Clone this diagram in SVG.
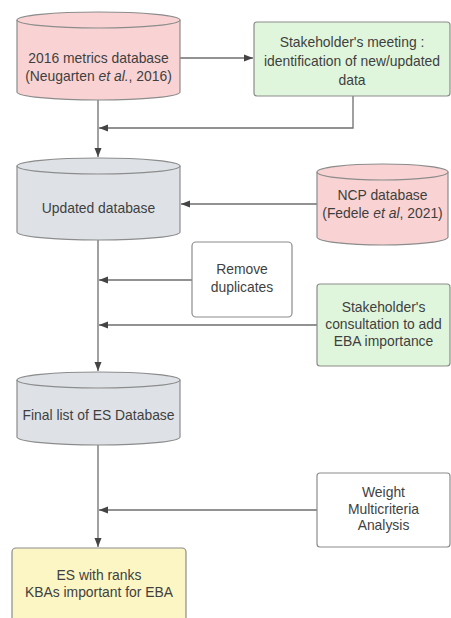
<svg xmlns="http://www.w3.org/2000/svg" width="451" height="618" viewBox="0 0 451 618">
<defs>
<marker id="ah" markerWidth="10" markerHeight="8" refX="9" refY="4" orient="auto" markerUnits="userSpaceOnUse">
<path d="M0,0.5 L9,4 L0,7.5 Z" fill="#444"/>
</marker>
<style>
.t{font-family:"Liberation Sans",Arial,sans-serif;font-size:13.9px;fill:#3f3f3f;text-anchor:middle}
.sh{stroke:#8c8c8c;stroke-width:1.2}
.pink{fill:#f9d3d3}
.green{fill:#e0f6dc}
.gray{fill:#dee2e7}
.yellow{fill:#fbf6c4}
.white{fill:#ffffff}
.c{fill:none;stroke:#6e6e6e;stroke-width:1.3}
</style>
</defs>
<rect width="451" height="618" fill="#ffffff"/>

<g id="connectors">
<path class="c" d="M180,58 H253" marker-end="url(#ah)"/>
<path class="c" d="M98,100 V157" marker-end="url(#ah)"/>
<path class="c" d="M353,96 V128 H99" marker-end="url(#ah)"/>
<path class="c" d="M317,204 H181" marker-end="url(#ah)"/>
<path class="c" d="M98,240 V371" marker-end="url(#ah)"/>
<path class="c" d="M192,280 H99" marker-end="url(#ah)"/>
<path class="c" d="M317,325 H99" marker-end="url(#ah)"/>
<path class="c" d="M98,445 V547" marker-end="url(#ah)"/>
<path class="c" d="M317,510 H99" marker-end="url(#ah)"/>
</g>

<g id="db2016">
<path class="sh pink" d="M17,20 A81.5,8 0 0 1 180,20 V92 A81.5,8 0 0 1 17,92 Z"/>
<path class="sh" fill="none" d="M17,20 A81.5,8 0 0 0 180,20"/>
<text class="t" x="98.5" y="63">2016 metrics database</text>
<text class="t" x="98.5" y="81">(Neugarten <tspan font-style="italic">et al.</tspan>, 2016)</text>
</g>

<g id="meeting">
<rect class="sh green" x="254" y="22" width="196" height="74" rx="3"/>
<text class="t" x="352" y="47">Stakeholder's meeting :</text>
<text class="t" x="352" y="66">identification of new/updated</text>
<text class="t" x="352" y="85">data</text>
</g>

<g id="updated">
<path class="sh gray" d="M17,166 A81.5,8 0 0 1 180,166 V232 A81.5,8 0 0 1 17,232 Z"/>
<path class="sh" fill="none" d="M17,166 A81.5,8 0 0 0 180,166"/>
<text class="t" x="98.5" y="213">Updated database</text>
</g>

<g id="ncp">
<path class="sh pink" d="M317,172 A65.5,8 0 0 1 448,172 V237 A65.5,8 0 0 1 317,237 Z"/>
<path class="sh" fill="none" d="M317,172 A65.5,8 0 0 0 448,172"/>
<text class="t" x="382.5" y="200">NCP database</text>
<text class="t" x="382.5" y="218">(Fedele <tspan font-style="italic">et al</tspan>, 2021)</text>
</g>

<g id="dupl">
<rect class="sh white" x="192" y="242" width="100" height="75" rx="4"/>
<text class="t" x="242" y="274">Remove</text>
<text class="t" x="242" y="292">duplicates</text>
</g>

<g id="consult">
<rect class="sh green" x="317" y="284" width="133" height="82" rx="3"/>
<text class="t" x="383.5" y="312">Stakeholder's</text>
<text class="t" x="383.5" y="329">consultation to add</text>
<text class="t" x="383.5" y="346">EBA importance</text>
</g>

<g id="final">
<path class="sh gray" d="M17,380 A81.5,8 0 0 1 180,380 V437 A81.5,8 0 0 1 17,437 Z"/>
<path class="sh" fill="none" d="M17,380 A81.5,8 0 0 0 180,380"/>
<text class="t" x="98.5" y="420">Final list of ES Database</text>
</g>

<g id="weight">
<rect class="sh white" x="317" y="473" width="133" height="74" rx="3"/>
<text class="t" x="383.5" y="497">Weight</text>
<text class="t" x="383.5" y="514">Multicriteria</text>
<text class="t" x="383.5" y="530">Analysis</text>
</g>

<g id="result">
<rect class="sh yellow" x="12" y="548" width="174" height="80" rx="4"/>
<text class="t" x="99" y="580">ES with ranks</text>
<text class="t" x="99" y="597">KBAs important for EBA</text>
</g>
</svg>
